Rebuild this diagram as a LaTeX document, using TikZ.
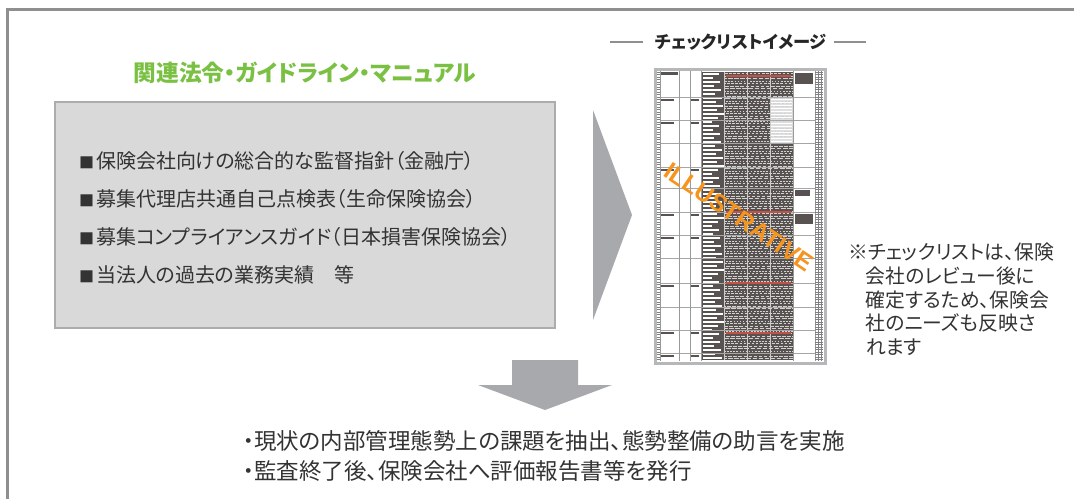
\documentclass[tikz,border=0pt]{standalone}
\usepackage{fontspec}
\newfontfamily\jp[RawFeature=+palt]{Noto Sans CJK JP}
\newfontfamily\illus{Liberation Sans}
\definecolor{framegray}{RGB}{141,143,145}
\definecolor{titlegreen}{RGB}{122,192,67}
\definecolor{boxfill}{RGB}{217,217,217}
\definecolor{boxborder}{RGB}{170,172,174}
\definecolor{arrowgray}{RGB}{167,169,172}
\definecolor{txt}{RGB}{51,51,51}
\definecolor{dk}{RGB}{88,83,81}
\definecolor{imgborder}{RGB}{181,183,184}
\definecolor{redline}{RGB}{196,80,70}
\definecolor{illorange}{RGB}{247,148,29}
\tikzset{
  jpbase/.style={text=txt},
  rowline/.style={draw=gray!70, line width=0.9pt},
  colline/.style={draw=gray!80, line width=0.7pt},
}
\newcommand{\sqbullet}{{\fontsize{15}{15}\selectfont ■}\hspace{2pt}}
\begin{document}
\begin{tikzpicture}[x=1pt,y=-1pt, every node/.style={inner sep=0pt, outer sep=0pt}]
\useasboundingbox (0,0) rectangle (1074,499);
\fill[white] (0,0) rectangle (1074,499);
% outer frame
\draw[framegray, line width=3pt] (7,499) -- (7,9) -- (1074,9);

% title
\node[text=titlegreen, font=\jp\bfseries\fontsize{22.7}{22.7}\selectfont] (title) at (305,73) {関連法令・ガイドライン・マニュアル};

% grey box
\node[draw=boxborder, line width=2pt, fill=boxfill, minimum width=500pt, minimum height=226pt, anchor=north west] (box) at (55,102) {};
\node[jpbase, anchor=west, align=left, font=\jp\fontsize{20}{38}\selectfont] (list) at (79,218)
 {\sqbullet 保険会社向けの総合的な監督指針（金融庁）\\
  \sqbullet 募集代理店共通自己点検表（生命保険協会）\\
  \sqbullet 募集コンプライアンスガイド（日本損害保険協会）\\
  \sqbullet 当法人の過去の業務実績　等};

% right triangle
\fill[arrowgray] (593,110) -- (632,215) -- (593,320) -- cycle;

% checklist title
\node[text=black!85, font=\jp\bfseries\fontsize{17.3}{17.3}\selectfont] (cltitle) at (741,42) {チェックリストイメージ};
\draw[framegray, line width=2pt] ([xshift=-12pt]cltitle.west) -- ++(-33,0);
\draw[framegray, line width=2pt] ([xshift=7pt]cltitle.east) -- ++(32,0);

% checklist image
\node[minimum width=170pt, minimum height=294pt, anchor=north west, fill=white] (img) at (655,69) {};
\fill[dk] (701,72) rectangle (793,360);
\fill[gray!25] (770,98) rectangle (793,143);
\foreach \y [count=\i] in {74,78,...,358} {
  \pgfmathsetmacro\len{9+mod(\i*7,13)}
  \draw[white, line width=1.3pt] (703,\y) -- ++(\len,0);
}
\foreach \y [count=\i] in {73.5,76,...,359} {
  \pgfmathsetmacro\on{1.5+mod(\i*5,4)}
  \pgfmathsetmacro\ph{mod(\i*3,7)}
  \draw[gray!35, line width=0.7pt, dash pattern=on \on pt off 1.6pt, dash phase=\ph pt] (724,\y) -- (793,\y);
}
\foreach \y in {99.5,102.5,...,142} {
  \draw[white, line width=0.8pt] (771,\y) -- (792,\y);
}
\foreach \x in {724,747,770} { \draw[gray!40, line width=1pt] (\x,72) -- (\x,360); }
\foreach \y in {97,120,143,167,188,212,235,258,283,307,330,353} {
  \draw[rowline] (660,\y) -- (815,\y);
}
\foreach \x in {660,679,690,701,793,815} { \draw[colline] (\x,71) -- (\x,361); }
\foreach \y in {76,212,283,333} { \draw[redline, line width=1.2pt] (726,\y) -- (791,\y); }
\foreach \y in {72,74.5,...,360} {
  \draw[gray, line width=0.4pt] (657,\y) -- (660,\y);
  \draw[gray, line width=0.4pt] (815,\y) -- (823,\y);
}
\foreach \x in {818,821} { \draw[gray, line width=0.4pt] (\x,71) -- (\x,361); }
\foreach \y in {97,120,167,212,235,283,330,353} {
  \fill[dk] (661,\y+1.5) rectangle (674,\y+4);
  \fill[dk] (691,\y+1.5) rectangle (699,\y+4);
}
\fill[dk] (661,72) rectangle (678,75);
\fill[dk] (795,73) rectangle (813,84);
\fill[dk] (795,190) rectangle (810,196);
\fill[dk] (795,214) rectangle (813,224);
\draw[imgborder, line width=3pt] (img.north west) rectangle (img.south east);

% ILLUSTRATIVE watermark
\node[rotate=-34, text=illorange, font=\illus\bfseries\fontsize{24.5}{24.5}\selectfont] (illus) at (739,217) {ILLUSTRATIVE};

% note
\node[jpbase, anchor=north west, align=left, font=\jp\fontsize{19.8}{23.75}\selectfont] (note) at (848,243)
 {※チェックリストは、保険\\
  \hspace*{0.9em}会社のレビュー後に\\
  \hspace*{0.9em}確定するため、保険会\\
  \hspace*{0.9em}社のニーズも反映さ\\
  \hspace*{0.9em}れます};

% down arrow
\fill[arrowgray] (512,360) -- (578,360) -- (578,385) -- (612,385) -- (545,410) -- (478,385) -- (512,385) -- cycle;

% result text
\node[jpbase, anchor=west, align=left, font=\jp\fontsize{22.5}{30}\selectfont] (res) at (243,456)
 {・現状の内部管理態勢上の課題を抽出、態勢整備の助言を実施\\
  ・監査終了後、保険会社へ評価報告書等を発行};
\end{tikzpicture}
\end{document}
